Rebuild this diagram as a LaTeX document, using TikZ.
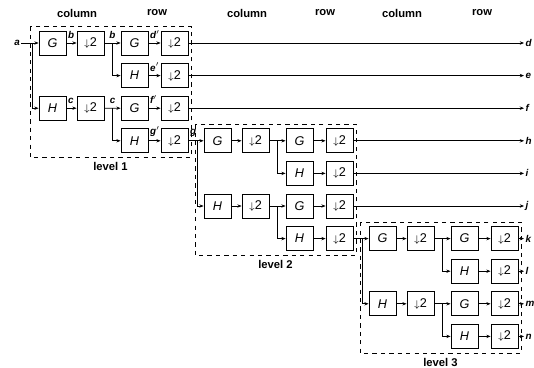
\documentclass[tikz,border=0pt]{standalone}
\usepackage{fontspec}
\setmainfont{Liberation Sans}
\usetikzlibrary{arrows.meta,positioning}
\tikzset{
 filt/.style={draw, line width=0.6pt, minimum width=0.675cm, minimum height=0.6cm, inner sep=0pt, font=\small\itshape},
 dsamp/.style={filt, font=\small},
 conn/.style={line width=0.5pt, -{Stealth[length=3pt,width=2.4pt]}},
 sig/.style={font=\scriptsize\bfseries\itshape, inner sep=1pt},
 hdr/.style={font=\footnotesize\bfseries},
 lvlbox/.style={draw, dashed, line width=0.5pt},
}
\newcommand{\dwn}{{\scriptsize$\downarrow$}2}

\begin{document}
\begin{tikzpicture}[x=0.025cm, y=-0.025cm]
 \useasboundingbox (0,0) rectangle (534,368);
 % headers
 \foreach \hx/\hname in {77/column, 157/row, 247/column, 325/row, 402/column, 482/row}
  \node[hdr] at (\hx,13) {\hname};
 % the three levels
 \foreach \lv in {1,2,3} {
  \pgfmathsetmacro\x{52.5+165*(\lv-1)}
  \pgfmathsetmacro\y{43+97.8*(\lv-1)}
  \draw[lvlbox] (\x-22.5,\y-16.5) rectangle (\x+138.5,\y+114.5);
  \node[hdr] (lvl\lv) at (\x+58,\y+123.5) {level \lv};
  \node[filt] (G\lv) at (\x,\y) {G};
  \node[dsamp] (DG\lv) at (\x+38,\y) {\dwn};
  \node[filt] (H\lv) at (\x,\y+65.2) {H};
  \node[dsamp] (DH\lv) at (\x+38,\y+65.2) {\dwn};
  \foreach \k/\f in {0/G,1/H,2/G,3/H} {
   \node[filt] (R\lv\k) at (\x+82,\y+32.6*\k) {\f};
   \node[dsamp] (DR\lv\k) at (\x+122,\y+32.6*\k) {\dwn};
   \draw[conn] (R\lv\k) -- (DR\lv\k);
  }
  \coordinate (JI\lv) at (\x-20,\y);
  \coordinate (JC\lv) at (\x+60,\y);
  \coordinate (JD\lv) at (\x+60,\y+65.2);
  \draw[conn] (JI\lv) |- (H\lv);
  \draw[conn] (G\lv) -- (DG\lv);
  \draw[conn] (H\lv) -- (DH\lv);
  \draw[conn] (DG\lv) -- (R\lv0);
  \draw[conn] (JC\lv) |- (R\lv1);
  \draw[conn] (DH\lv) -- (R\lv2);
  \draw[conn] (JD\lv) |- (R\lv3);
 }
 % input and links between levels
 \node[sig] (a) at (17,43) {a};
 \draw[conn] (a) -- (G1);
 \draw[conn] (DR13) -- (G2);
 \draw[conn] (DR23) -- (G3);
 % outputs
 \foreach \lv/\k/\out in {1/0/d, 1/1/e, 1/2/f, 2/0/h, 2/1/i, 2/2/j, 3/0/k, 3/1/l, 3/2/m, 3/3/n} {
  \node[sig, anchor=west] (out\out) at (DR\lv\k.east -| 524,0) {\out};
  \draw[conn] (DR\lv\k) -- (out\out);
 }
 % signal names in level 1
 \node[sig, anchor=south west] (b1) at ([yshift=2pt]G1.east) {b};
 \node[sig, anchor=south] (b2) at ([yshift=2pt]JC1) {b};
 \node[sig, anchor=south west] (c1) at ([yshift=2pt]H1.east) {c};
 \node[sig, anchor=south] (c2) at ([yshift=2pt]JD1) {c};
 \node[sig, anchor=south west] (dp) at ([yshift=2pt]R10.east) {d$'$};
 \node[sig, anchor=south west] (ep) at ([yshift=2pt]R11.east) {e$'$};
 \node[sig, anchor=south west] (fp) at ([yshift=2pt]R12.east) {f$'$};
 \node[sig, anchor=south west] (gp) at ([yshift=2pt]R13.east) {g$'$};
 \node[sig, anchor=south west] (gsig) at ([yshift=2pt]DR13.east) {g};
\end{tikzpicture}
\end{document}
